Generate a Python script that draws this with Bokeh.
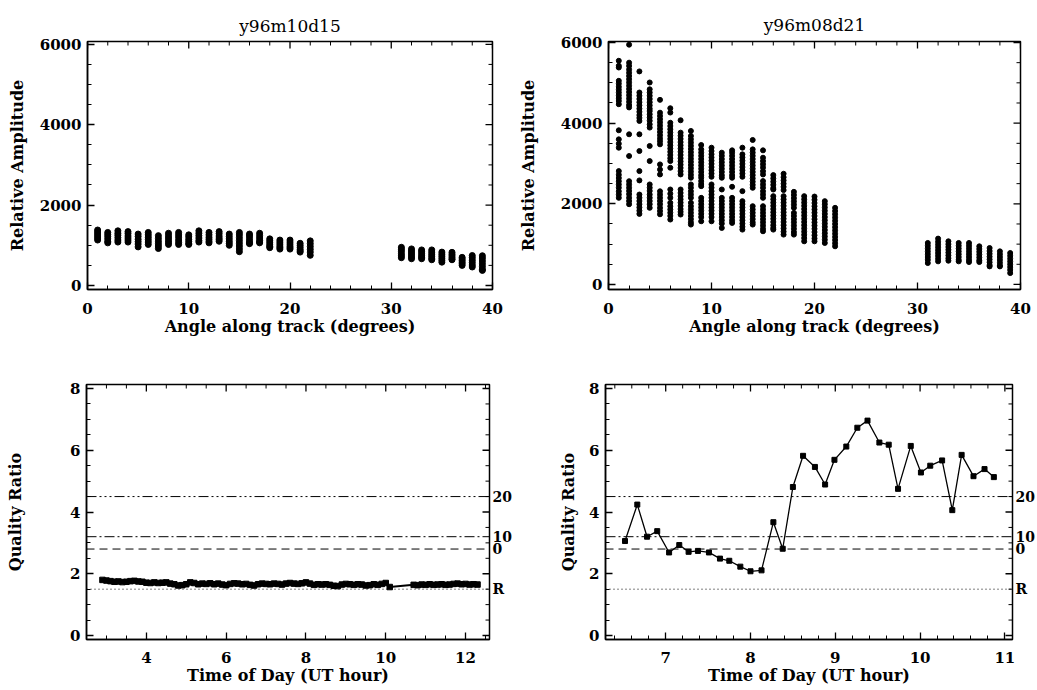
import math
from bokeh.plotting import figure
from bokeh.layouts import column, row
from bokeh.models import Range1d, LinearAxis, FixedTicker, Span
from bokeh.embed import file_html
from bokeh.resources import INLINE

# ---------------- data ----------------
tl_title = "y96m10d15"
tr_title = "y96m08d21"

tl_angles = [1, 2, 3, 4, 5, 6, 7, 8, 9, 10, 11, 12, 13, 14, 15, 16, 17, 18, 19, 20, 21, 22,
             31, 32, 33, 34, 35, 36, 37, 38, 39]
tl_amplitudes = [
    [1380, 1330, 1280, 1230, 1180, 1130],
    [1320, 1270, 1220, 1160, 1100, 1060],
    [1360, 1300, 1250, 1190, 1130, 1080],
    [1340, 1290, 1230, 1180, 1130, 1080],
    [1280, 1220, 1150, 1090, 1030, 960],
    [1320, 1260, 1200, 1140, 1080, 1020],
    [1240, 1170, 1100, 1040, 980, 920],
    [1300, 1240, 1180, 1120, 1070, 1020],
    [1320, 1260, 1200, 1130, 1070, 1020],
    [1260, 1210, 1150, 1100, 1050, 1020],
    [1360, 1300, 1240, 1180, 1120, 1080],
    [1320, 1260, 1200, 1150, 1100, 1060],
    [1340, 1290, 1230, 1180, 1140, 1100],
    [1280, 1220, 1160, 1100, 1050, 1000],
    [1320, 1260, 1190, 1120, 1050, 980, 910, 840],
    [1280, 1230, 1170, 1110, 1060, 1040],
    [1300, 1240, 1180, 1120, 1080, 1060],
    [1160, 1110, 1060, 1010, 970, 940],
    [1130, 1080, 1030, 980, 940, 905],
    [1130, 1080, 1030, 980, 940, 905],
    [1050, 1000, 950, 900, 860, 830],
    [1110, 1040, 970, 900, 830, 750],
    [950, 900, 850, 790, 740, 690],
    [910, 860, 810, 760, 710, 665],
    [885, 840, 790, 740, 700, 665],
    [885, 830, 780, 730, 680, 640],
    [830, 780, 730, 680, 630, 580],
    [825, 780, 740, 700, 660, 640],
    [700, 660, 620, 580, 540, 500],
    [745, 690, 630, 570, 510, 460],
    [740, 680, 610, 540, 470, 400, 375],
]

tr_angles = tl_angles
tr_amplitudes = [
    [5547, 5423, 5380, 5050, 4980, 4900, 4830, 4760, 4690, 4620, 4550, 4470, 3823, 3599, 3490, 3391,
     2811, 2720, 2640, 2560, 2480, 2400, 2310, 2230, 2148],
    [5946, 5500, 5420, 5330, 5250, 5170, 5090, 5010, 4930, 4850, 4770, 4690, 4610, 4530, 4450, 4390,
     3724, 3185, 2560, 2480, 2400, 2320, 2240, 2150, 2070, 1990],
    [5283, 4760, 4680, 4600, 4520, 4440, 4360, 4280, 4200, 4130, 4055, 3724, 3309, 2811, 2580,
     2230, 2150, 2070, 1990, 1910, 1830, 1750],
    [5009, 4840, 4760, 4680, 4600, 4520, 4440, 4360, 4300, 4220, 4140, 4060, 3970, 3890, 3434, 3060,
     2480, 2400, 2320, 2230, 2150, 2070, 1990, 1900],
    [4578, 4260, 4180, 4100, 4020, 3940, 3860, 3780, 3700, 3620, 3550, 3475, 2977, 2850, 2728,
     2310, 2230, 2150, 2070, 1990, 1900, 1820, 1740],
    [4370, 4263, 4010, 3930, 3850, 3770, 3690, 3610, 3530, 3450, 3370, 3290, 3210, 3130, 3060, 2894,
     2355, 2250, 2148, 2024, 1940, 1860, 1780, 1700, 1610],
    [4072, 3765, 3690, 3610, 3530, 3450, 3370, 3290, 3210, 3130, 3050, 2970, 2890, 2810, 2728,
     2355, 2270, 2190, 2110, 2030, 1950, 1870, 1800, 1734],
    [3807, 3682, 3600, 3520, 3440, 3360, 3280, 3200, 3120, 3040, 2960, 2880, 2800, 2720, 2646,
     2480, 2400, 2310, 2230, 2148, 2024, 1940, 1860, 1780, 1700, 1620, 1540, 1485],
    [3458, 3350, 3270, 3190, 3110, 3030, 2950, 2870, 2790, 2710, 2646, 2563, 2490, 2438,
     2148, 2070, 1990, 1910, 1830, 1750, 1670, 1567],
    [3392, 3309, 3230, 3150, 3070, 2990, 2910, 2830, 2750, 2670, 2480, 2400, 2314,
     2231, 2150, 2070, 1990, 1910, 1830, 1750, 1670, 1567],
    [3268, 3190, 3110, 3030, 2950, 2870, 2790, 2710, 2646, 2355,
     2148, 2070, 1990, 1910, 1830, 1750, 1670, 1590, 1510, 1402],
    [3326, 3268, 3190, 3110, 3030, 2950, 2870, 2790, 2710, 2646, 2422,
     2148, 2070, 1990, 1910, 1830, 1750, 1670, 1590, 1526],
    [3392, 3226, 3150, 3070, 2990, 2910, 2830, 2750, 2670, 2314,
     2066, 1990, 1910, 1830, 1750, 1670, 1590, 1510, 1430, 1360],
    [3583, 3350, 3270, 3190, 3110, 3030, 2950, 2870, 2790, 2710, 2630, 2550, 2470, 2397,
     1941, 1860, 1780, 1700, 1620, 1540, 1485],
    [3326, 3143, 3060, 2980, 2900, 2810, 2728, 2563, 2480, 2400, 2310, 2230, 2148,
     1941, 1860, 1780, 1700, 1620, 1540, 1460, 1380, 1319],
    [2712, 2630, 2550, 2470, 2390, 2355, 2190, 2110, 2030, 1950, 1870, 1790, 1710, 1630, 1550,
     1470, 1400, 1360],
    [2745, 2660, 2580, 2500, 2420, 2340, 2190, 2110, 2030, 1950, 1870, 1790, 1710, 1630, 1550,
     1470, 1390, 1310, 1236],
    [2297, 2220, 2140, 2060, 1980, 1900, 1775, 1700, 1620, 1540, 1460, 1380, 1300, 1236],
    [2190, 2110, 2030, 1950, 1870, 1790, 1710, 1630, 1550, 1470, 1390, 1310, 1230, 1150, 1070],
    [2180, 2100, 2020, 1940, 1860, 1780, 1700, 1620, 1540, 1460, 1380, 1300, 1220, 1140, 1070],
    [2066, 1990, 1910, 1830, 1750, 1670, 1590, 1510, 1430, 1350, 1270, 1190, 1110, 1029],
    [1900, 1820, 1740, 1660, 1580, 1500, 1420, 1340, 1260, 1180, 1100, 1020, 946],
    [1029, 960, 890, 820, 750, 680, 610, 531],
    [1137, 1060, 990, 920, 850, 780, 710, 640, 573],
    [1070, 1000, 930, 860, 790, 720, 650, 589],
    [1029, 960, 890, 820, 750, 680, 610, 573],
    [1029, 960, 890, 820, 750, 680, 610, 556],
    [946, 880, 810, 740, 670, 600, 556],
    [904, 830, 760, 690, 620, 550, 480, 448],
    [821, 750, 680, 610, 540, 470, 448],
    [780, 710, 640, 570, 500, 430, 360, 282],
]

bl_hours = [2.9, 3.0, 3.1, 3.2, 3.3, 3.4, 3.5, 3.6, 3.7, 3.8, 3.9, 4.0, 4.1, 4.2, 4.3, 4.4, 4.5,
            4.6, 4.7, 4.8, 4.9, 5.0, 5.1, 5.2, 5.3, 5.4, 5.5, 5.6, 5.7, 5.8, 5.9, 6.0, 6.1, 6.2,
            6.3, 6.4, 6.5, 6.6, 6.7, 6.8, 6.9, 7.0, 7.1, 7.2, 7.3, 7.4, 7.5, 7.6, 7.7, 7.8, 7.9,
            8.0, 8.1, 8.2, 8.3, 8.4, 8.5, 8.6, 8.7, 8.8, 8.9, 9.0, 9.1, 9.2, 9.3, 9.4, 9.5, 9.6,
            9.7, 9.8, 9.9, 10.0, 10.1,
            10.7, 10.8, 10.9, 11.0, 11.1, 11.2, 11.3, 11.4, 11.5, 11.6, 11.7, 11.8, 11.9, 12.0,
            12.1, 12.2, 12.3]
bl_ratio = [1.80, 1.78, 1.76, 1.74, 1.75, 1.73, 1.74, 1.76, 1.77, 1.75, 1.74, 1.71, 1.70, 1.72,
            1.70, 1.71, 1.72, 1.68, 1.66, 1.62, 1.63, 1.66, 1.72, 1.70, 1.66, 1.68, 1.67, 1.69,
            1.66, 1.68, 1.65, 1.63, 1.67, 1.69, 1.68, 1.66, 1.67, 1.64, 1.62, 1.66, 1.68, 1.67,
            1.66, 1.68, 1.67, 1.65, 1.68, 1.70, 1.68, 1.67, 1.69, 1.72, 1.68, 1.64, 1.66, 1.65,
            1.66, 1.64, 1.61, 1.60, 1.65, 1.67, 1.66, 1.64, 1.66, 1.65, 1.62, 1.63, 1.66, 1.64,
            1.67, 1.70, 1.57,
            1.64, 1.63, 1.65, 1.64, 1.66, 1.64, 1.65, 1.66, 1.64, 1.65, 1.67, 1.68, 1.66, 1.67,
            1.65, 1.66, 1.65]

br_hours = [6.52, 6.665, 6.78, 6.90, 7.04, 7.16, 7.27, 7.38, 7.51, 7.64, 7.75, 7.88, 8.00, 8.13,
            8.27, 8.38, 8.50, 8.62, 8.76, 8.88, 8.99, 9.13, 9.26, 9.38, 9.52, 9.63, 9.74, 9.89,
            10.01, 10.12, 10.26, 10.38, 10.49, 10.63, 10.76, 10.87]
br_ratio = [3.06, 4.24, 3.20, 3.38, 2.69, 2.93, 2.71, 2.74, 2.69, 2.49, 2.42, 2.23, 2.08, 2.11,
            3.67, 2.81, 4.81, 5.82, 5.46, 4.89, 5.69, 6.12, 6.73, 6.96, 6.25, 6.18, 4.75, 6.14,
            5.28, 5.50, 5.67, 4.06, 5.85, 5.16, 5.39, 5.13]

ref_levels = [4.5, 3.2, 2.8, 1.5]
ref_labels = ["20", "10", "0", "R"]

angle_major = [0, 10, 20, 30, 40]
angle_minor = [2, 4, 6, 8, 12, 14, 16, 18, 22, 24, 26, 28, 32, 34, 36, 38]
amp_major = [0, 2000, 4000, 6000]
amp_minor = [500, 1000, 1500, 2500, 3000, 3500, 4500, 5000, 5500]
q_major = [0, 2, 4, 6, 8]
q_minor = [0.5, 1, 1.5, 2.5, 3, 3.5, 4.5, 5, 5.5, 6.5, 7, 7.5]
bl_hour_major = [4, 6, 8, 10, 12]
bl_hour_minor = [3, 3.5, 4.5, 5, 5.5, 6.5, 7, 7.5, 8.5, 9, 9.5, 10.5, 11, 11.5, 12.5]
br_hour_major = [7, 8, 9, 10, 11]
br_hour_minor = [6.4, 6.6, 6.8, 7.2, 7.4, 7.6, 7.8, 8.2, 8.4, 8.6, 8.8, 9.2, 9.4, 9.6, 9.8,
                 10.2, 10.4, 10.6, 10.8]

# ---------------- style ----------------
FONT = "DejaVu Serif"
ref_dashes = ["10 3 2 3 2 3 2 3", "10 3 2 3", "8 5", "1 3"]


def style_axis(ax, standoff, label_standoff):
    ax.axis_line_color = "black"
    ax.axis_line_width = 1.5
    ax.major_tick_in = 7
    ax.major_tick_out = 0
    ax.minor_tick_in = 4
    ax.minor_tick_out = 0
    ax.major_tick_line_color = "black"
    ax.major_tick_line_width = 1.3
    ax.minor_tick_line_color = "black"
    ax.minor_tick_line_width = 1
    ax.major_label_text_font = FONT
    ax.major_label_text_font_style = "bold"
    ax.major_label_text_font_size = "15px"
    ax.major_label_text_color = "black"
    ax.major_label_standoff = standoff
    ax.axis_label_text_font = FONT
    ax.axis_label_text_font_style = "bold"
    ax.axis_label_text_font_size = "16px"
    ax.axis_label_text_color = "black"
    ax.axis_label_standoff = label_standoff


def make_fig(width, height, borders, xr, yr, xmaj, xmin, ymaj, ymin, title, xlabel, ylabel,
             ylab_standoff, xstand, xlabstand, title_standoff=6):
    p = figure(width=width, height=height, output_backend="svg", toolbar_location=None,
               x_range=Range1d(*xr), y_range=Range1d(*yr),
               min_border_left=borders[0], min_border_right=borders[1],
               min_border_top=borders[2], min_border_bottom=borders[3],
               title=title)
    p.xgrid.visible = False
    p.ygrid.visible = False
    p.outline_line_color = "black"
    p.outline_line_width = 1.5
    p.background_fill_color = "white"
    p.border_fill_color = "white"
    if title:
        p.title.text_font = FONT
        p.title.text_font_size = "17px"
        p.title.text_font_style = "normal"
        p.title.align = "center"
        p.title.text_color = "black"
        p.title.standoff = title_standoff
    p.xaxis.ticker = FixedTicker(ticks=xmaj, minor_ticks=xmin)
    p.yaxis.ticker = FixedTicker(ticks=ymaj, minor_ticks=ymin)
    p.xaxis.axis_label = xlabel
    p.yaxis.axis_label = ylabel
    for ax in p.xaxis:
        style_axis(ax, xstand, xlabstand)
    for ax in p.yaxis:
        style_axis(ax, 6, ylab_standoff)
    # inward ticks along the top and right edges of the box (half of each dash is clipped)
    p.scatter(xmaj, [yr[1]] * len(xmaj), marker="dash", angle=math.pi / 2, size=14,
              line_color="black", line_width=1.3)
    p.scatter(xmin, [yr[1]] * len(xmin), marker="dash", angle=math.pi / 2, size=8,
              line_color="black", line_width=1)
    p.scatter([xr[1]] * len(ymaj), ymaj, marker="dash", size=14,
              line_color="black", line_width=1.3)
    p.scatter([xr[1]] * len(ymin), ymin, marker="dash", size=8,
              line_color="black", line_width=1)
    return p


def add_refs(p):
    for lvl, dash in zip(ref_levels, ref_dashes):
        p.add_layout(Span(location=lvl, dimension="width", line_color="black",
                          line_width=1, line_dash=dash))
    ax = LinearAxis(ticker=FixedTicker(ticks=ref_levels, minor_ticks=[]),
                    major_label_overrides={lv: lb for lv, lb in zip(ref_levels, ref_labels)})
    ax.axis_line_color = None
    ax.major_tick_line_color = None
    ax.major_tick_in = 0
    ax.major_tick_out = 0
    ax.minor_tick_line_color = None
    ax.major_label_standoff = 3
    ax.major_label_text_font = FONT
    ax.major_label_text_font_style = "bold"
    ax.major_label_text_font_size = "14px"
    ax.major_label_text_color = "black"
    p.add_layout(ax, "right")


# ---- top-left ----
tl = make_fig(514, 340, (87, 22, 41, 51), (0, 40), (-100, 6070),
              angle_major, angle_minor, amp_major, amp_minor,
              tl_title, "Angle along track (degrees)", "Relative Amplitude", 10, 13, 0,
              title_standoff=12)
xs, ys = [], []
for a, vals in zip(tl_angles, tl_amplitudes):
    for v in vals:
        xs.append(a)
        ys.append(v)
tl.scatter(xs, ys, marker="circle", size=6, color="black")

# ---- top-right ----
tr = make_fig(523, 340, (94, 17, 41, 51), (0, 40), (-125, 6025),
              angle_major, angle_minor, amp_major, amp_minor,
              tr_title, "Angle along track (degrees)", "Relative Amplitude", 20, 13, 0,
              title_standoff=14)
xs, ys = [], []
for a, vals in zip(tr_angles, tr_amplitudes):
    for v in vals:
        xs.append(a)
        ys.append(v)
tr.scatter(xs, ys, marker="circle", size=5, color="black")

# ---- bottom-left ----
bl = make_fig(529, 350, (86, 40, 44, 51), (2.5, 12.6), (-0.13, 8.13),
              bl_hour_major, bl_hour_minor, q_major, q_minor,
              None, "Time of Day (UT hour)", "Quality Ratio", 42, 12, 0)
add_refs(bl)
bl.line(bl_hours, bl_ratio, line_color="black", line_width=2)
bl.scatter(bl_hours, bl_ratio, marker="square", size=5.5, color="black")

# ---- bottom-right ----
br = make_fig(508, 350, (76, 23, 44, 51), (6.29, 11.09), (-0.13, 8.13),
              br_hour_major, br_hour_minor, q_major, q_minor,
              None, "Time of Day (UT hour)", "Quality Ratio", 8, 12, 0)
add_refs(br)
br.line(br_hours, br_ratio, line_color="black", line_width=1.3)
br.scatter(br_hours, br_ratio, marker="square", size=5, color="black")

layout = column(row(tl, tr), row(bl, br))
open("out.html", "w").write(file_html(layout, INLINE))
